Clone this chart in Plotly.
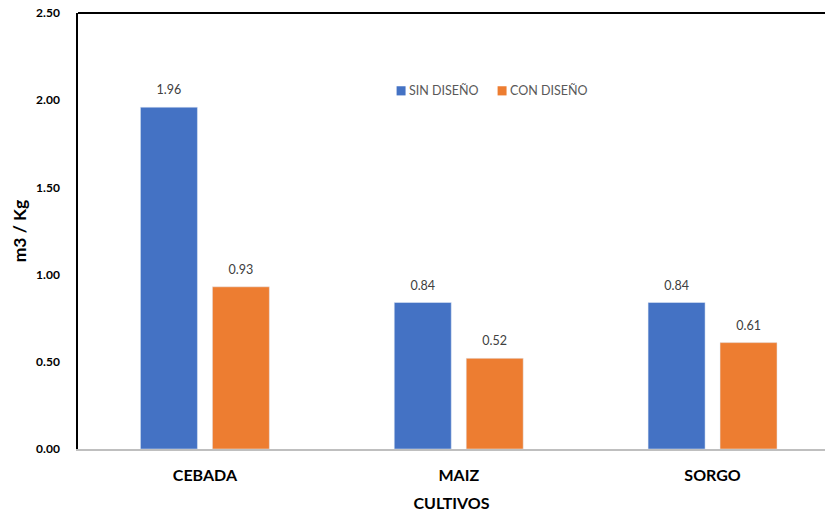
import plotly.graph_objects as go

cultivos = ["CEBADA", "MAIZ", "SORGO"]
sin_diseno = [1.96, 0.84, 0.84]
con_diseno = [0.93, 0.52, 0.61]
y_ticks = [0.0, 0.5, 1.0, 1.5, 2.0, 2.5]

series = [
    ("SIN DISEÑO", sin_diseno, "#4472C4"),
    ("CON DISEÑO", con_diseno, "#ED7D31"),
]

FONT = "Lato, Calibri, 'Open Sans', sans-serif"

fig = go.Figure()
for i, (name, values, color) in enumerate(series):
    fig.add_trace(go.Bar(
        name=name, x=cultivos, y=values,
        marker_color=color, offsetgroup=str(i),
        showlegend=False,
    ))
# Value labels above each bar, grouped the same way as the bars
for i, (name, values, color) in enumerate(series):
    fig.add_trace(go.Scatter(
        x=cultivos, y=values, mode="markers+text",
        text=[f"{v:.2f}" for v in values], textposition="top center",
        textfont=dict(size=12.5, color="#404040", family=FONT),
        marker=dict(size=14, opacity=0),
        offsetgroup=str(i), cliponaxis=False,
        showlegend=False, hoverinfo="skip",
    ))

# Legend drawn as colour swatches with captions
shapes = []
notes = []
legend_x = [0.4265, 0.5617]
for (name, _, color), lx in zip(series, legend_x):
    shapes.append(dict(
        type="rect", xref="paper", yref="paper",
        x0=lx, x1=lx + 0.012, y0=0.811, y1=0.832,
        fillcolor=color, line=dict(width=0),
    ))
    notes.append(dict(
        text=name, xref="paper", yref="paper", x=lx + 0.0145, y=0.8215,
        xanchor="left", yanchor="middle", showarrow=False,
        font=dict(size=12.5, color="#595959", family=FONT),
    ))

shapes.append(dict(
    type="line", xref="paper", yref="paper", x0=0, x1=1, y0=1, y1=1,
    line=dict(color="#000000", width=2),
))

fig.update_layout(
    width=825, height=512,
    margin=dict(l=78, r=0, t=13, b=63),
    paper_bgcolor="white", plot_bgcolor="white",
    barmode="group", bargap=0.433, bargroupgap=0.208,
    scattermode="group", scattergap=0.433,
    font=dict(family=FONT, color="#000000"),
    xaxis=dict(
        range=[-0.5, 2.443],
        showline=True, linecolor="#BFBFBF", linewidth=2,
        tickfont=dict(size=16, family=FONT, color="#000000", weight="bold"),
        ticks="", showgrid=False, ticklabelstandoff=11,
        title=dict(text="<b>CULTIVOS</b>", font=dict(size=16, family=FONT), standoff=15),
    ),
    yaxis=dict(
        range=[0, 2.5], tickvals=y_ticks,
        ticktext=[f"{v:.2f}" for v in y_ticks],
        showline=True, linecolor="#000000", linewidth=1.5,
        showgrid=False, zeroline=False, ticks="",
        ticklabelstandoff=14,
        tickfont=dict(size=12, family=FONT, color="#000000", weight="bold"),
        title=dict(text="<b>m3 / Kg</b>", font=dict(size=17.5, family=FONT), standoff=5),
    ),
    shapes=shapes,
    annotations=notes,
)

fig.write_html("out.html")
